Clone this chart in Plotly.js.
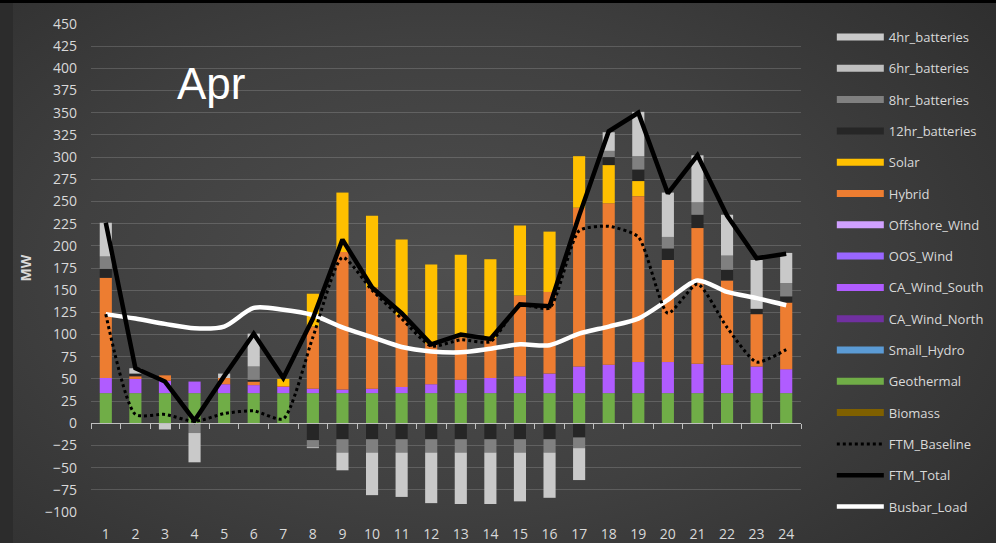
<!DOCTYPE html>
<html><head><meta charset="utf-8">
<script src="https://cdn.plot.ly/plotly-3.0.1.min.js"></script>
<style>
html,body{margin:0;padding:0;background:#2b2b2b;}
#chart{width:996px;height:543px;background:
 linear-gradient(to bottom,#000 0,#000 3px,transparent 3px),
 linear-gradient(to right,#2c2c2c 0,#2c2c2c 13px,transparent 13px),
 radial-gradient(ellipse 75% 85% at 45% 50%, #4e4e4e 0%, #404040 50%, #2c2c2c 100%);}
</style></head><body><div id="chart"></div>
<script>
const hours = ['1','2','3','4','5','6','7','8','9','10','11','12','13','14','15','16','17','18','19','20','21','22','23','24'];
const biomass      = [0,0,0,0,0,0,0,0,0,0,0,0,0,0,0,0,0,0,0,0,0,0,0,0];
const geothermal   = [34,34,34,34,34,34,34,34,34,34,34,34,34,34,34,34,34,34,34,34,34,34,34,34];
const smallHydro   = [0,0,0,0,0,0,0,0,0,0,0,0,0,0,0,0,0,0,0,0,0,0,0,0];
const caWindNorth  = [0,0,0,0,0,0,0,0,0,0,0,0,0,0,0,0,0,0,0,0,0,0,0,0];
const caWindSouth  = [17,16,14,13,10,9,7,5,4,5,7,10,15,17,19,22,30,32,35,35,33,32,30,27];
const oosWind      = [0,0,0,0,0,0,0,0,0,0,0,0,0,0,0,0,0,0,0,0,0,0,0,0];
const offshoreWind = [0,0,0,0,0,0,0,0,0,0,0,0,0,0,0,0,0,0,0,0,0,0,0,0];
const hybrid       = [113,3,6,0,7,4,1,70,155,114,81,46,48,45,91,92,179,182,187,115,153,95,59,75];
const solar        = [0,0,0,0,0,0,8,37,67,81,85,89,93,89,79,68,58,43,17,0,0,0,0,0];
const bat12hr      = [10,3,0,0,0,2,0,-19,-18,-18,-18,-18,-18,-18,-18,-18,-16,9,13,13,15,12,6,7];
const bat8hr       = [14,0,0,-11,0,15,0,-8,-15,-15,-15,-15,-15,-15,-15,-15,-12,7,15,13,14,16,0,15];
const bat6hr       = [0,0,0,0,0,0,0,0,0,0,0,0,0,0,0,0,0,0,0,0,0,0,0,0];
const bat4hr       = [38,6,-7,-33,5,37,0,-1,-20,-48,-50,-57,-58,-58,-55,-51,-36,21,50,50,53,46,55,34];
const ftmBaseline  = [123,10,10,2,11,14,5,97,187,150,118,87,94,92,133,130,217,222,210,124,157,108,69,83];
const ftmTotal     = [226,62,47,3,53,101,51,118,207,153,124,89,100,95,134,132,234,329,350,259,302,234,186,191];
const busbarLoad   = [123,118,112,107,109,130,128,122,108,97,86,81,80,84,89,88,101,109,118,139,161,148,141,133];

function bar(name, y, color, rank){
  return {type:'bar', name:name, x:hours, y:y, marker:{color:color}, legendgroup:name, legendrank:rank, hoverinfo:'name+y'};
}
const traces = [
  {type:'scatter', mode:'lines', name:'Busbar_Load', x:hours, y:busbarLoad, legendgroup:'Busbar_Load', legendrank:16,
   line:{color:'#ffffff', width:4.5, shape:'spline', smoothing:0.8}},
  {type:'scatter', mode:'lines', name:'FTM_Total', x:hours, y:ftmTotal, legendgroup:'FTM_Total', legendrank:15,
   line:{color:'#000000', width:4.5}},
  {type:'scatter', mode:'lines', name:'FTM_Baseline', x:hours, y:ftmBaseline, legendgroup:'FTM_Baseline', legendrank:14,
   line:{color:'#000000', width:3, dash:'dot', shape:'spline', smoothing:0.6}},
  bar('Biomass', biomass, '#7f6000', 13),
  bar('Geothermal', geothermal, '#70ad47', 12),
  bar('Small_Hydro', smallHydro, '#5b9bd5', 11),
  bar('CA_Wind_North', caWindNorth, '#7030a0', 10),
  bar('CA_Wind_South', caWindSouth, '#b05cff', 9),
  bar('OOS_Wind', oosWind, '#9966ff', 8),
  bar('Offshore_Wind', offshoreWind, '#d0a0ff', 7),
  bar('Hybrid', hybrid, '#ed7d31', 6),
  bar('Solar', solar, '#ffc000', 5),
  bar('12hr_batteries', bat12hr, '#262626', 4),
  bar('8hr_batteries', bat8hr, '#808080', 3),
  bar('6hr_batteries', bat6hr, '#bfbfbf', 2),
  bar('4hr_batteries', bat4hr, '#c9c9c9', 1)
];
const layout = {
  width:996, height:543,
  margin:{l:91, r:195, t:24, b:31, autoexpand:false},
  paper_bgcolor:'rgba(0,0,0,0)', plot_bgcolor:'rgba(0,0,0,0)',
  font:{family:'Open Sans, sans-serif', color:'#d9d9d9', size:13},
  barmode:'relative', bargap:0.59,
  showlegend:true,
  legend:{x:1.0434, xanchor:'left', y:1.004, yanchor:'top', bgcolor:'rgba(0,0,0,0)', maxheight:540,
          traceorder:'grouped', tracegroupgap:11.4, itemwidth:47,
          font:{family:'Open Sans, sans-serif', size:13, color:'#d9d9d9'}},
  xaxis:{type:'category', anchor:'free', position:100/550, showline:true, linecolor:'#bfbfbf', linewidth:1,
         ticks:'outside', ticklen:5, tickcolor:'#bfbfbf', tickson:'boundaries', showgrid:false,
         ticklabelstandoff:98, tickfont:{size:14, color:'#d9d9d9'}, fixedrange:true},
  yaxis:{range:[-100,450], tick0:0, dtick:25, showgrid:true, gridcolor:'rgba(255,255,255,0.16)', gridwidth:1,
         zeroline:false, showline:false, ticks:'', ticklabelstandoff:13,
         tickfont:{size:14, color:'#d9d9d9'},
         title:{text:'MW', font:{size:14, color:'#d9d9d9', weight:'bold'}, standoff:10}},
  annotations:[{xref:'paper', yref:'paper', x:0.169, y:0.878, xanchor:'center', yanchor:'middle', text:'Apr', showarrow:false,
                font:{family:'Liberation Sans, Arial, sans-serif', size:44, color:'#ffffff'}}]
};
function widenLegendBars(){
  document.querySelectorAll('#chart .legend .legendpoints path').forEach(function(p){
    var d = p.getAttribute('d') || '';
    if (d.replace(/\s/g,'') === 'M6,6H-6V-6H6Z' || p.classList.contains('legendbar')) {
      p.setAttribute('d', 'M-23.5,-3.5h47v7h-47Z');
    }
  });
}
const gd = document.getElementById('chart');
Plotly.newPlot(gd, traces, layout, {displayModeBar:false, staticPlot:true}).then(function(){
  widenLegendBars();
  setTimeout(widenLegendBars, 0);
  setTimeout(widenLegendBars, 100);
  setTimeout(widenLegendBars, 400);
});
gd.on && gd.on('plotly_afterplot', widenLegendBars);
</script></body></html>
